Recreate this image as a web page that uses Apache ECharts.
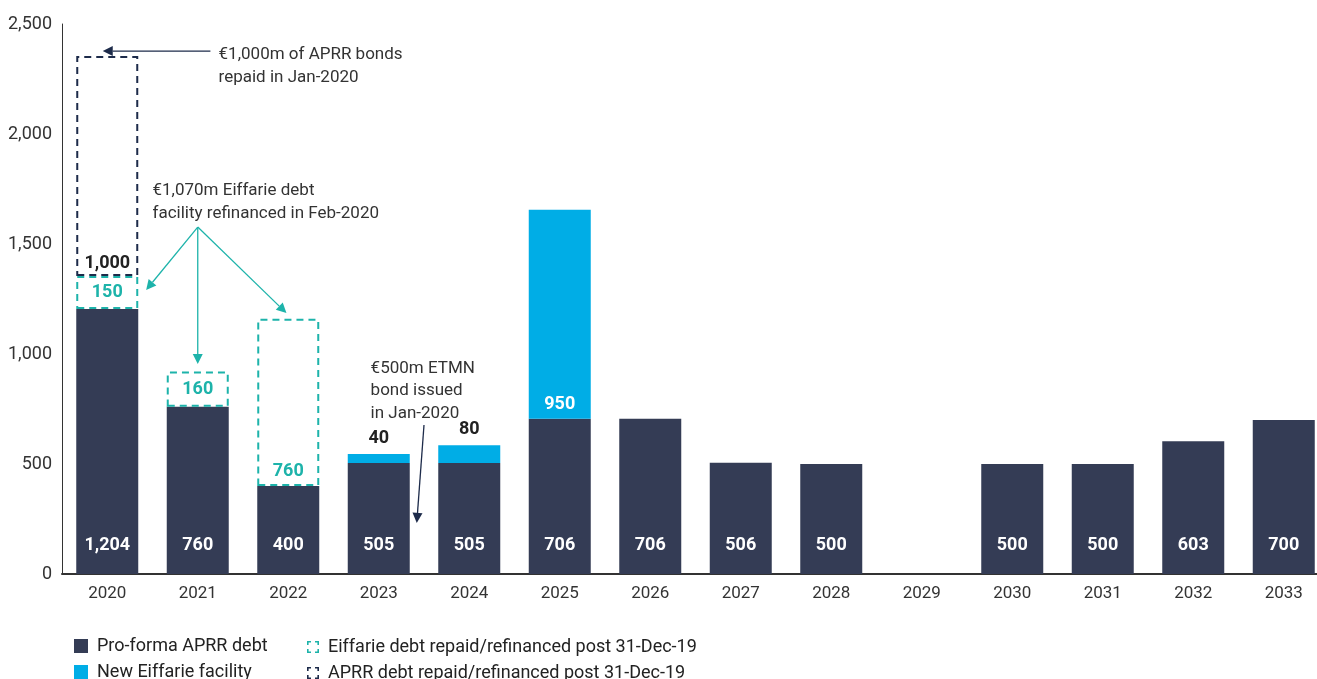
<!DOCTYPE html>
<html><head><meta charset="utf-8">
<script src="https://cdn.jsdelivr.net/npm/echarts@6/dist/echarts.min.js"></script>
<style>html,body{margin:0;padding:0;background:#fff}#c{width:1317px;height:679px}</style>
</head><body><div id="c"></div>
<script>
const years = ['2020','2021','2022','2023','2024','2025','2026','2027','2028','2029','2030','2031','2032','2033'];
const proForma = [1204, 760, 400, 505, 505, 706, 706, 506, 500, null, 500, 500, 603, 700];
const newEiffarie = [null, null, null, 40, 80, 950, null, null, null, null, null, null, null, null];
const eiffarieRepaid = [150, 160, 760, null, null, null, null, null, null, null, null, null, null, null];
const aprrRepaid = [1000, null, null, null, null, null, null, null, null, null, null, null, null, null];
const yTicks = [0, 500, 1000, 1500, 2000, 2500];
const seriesNames = ['Pro-forma APRR debt', 'New Eiffarie facility',
  'Eiffarie debt repaid/refinanced post 31-Dec-19', 'APRR debt repaid/refinanced post 31-Dec-19'];

const DARK = '#343c55', CYAN = '#00ade6', TEAL = '#1db3aa', NAVY = '#1d2b4a', TXT = '#333333';
const FONT = 'Roboto';
const fmt = v => (v == null ? '' : Number(v).toLocaleString('en-US'));

const chart = echarts.init(document.getElementById('c'));
const bold = { fontFamily: FONT, fontWeight: 'bold', fontSize: 18 };

const cyanData = newEiffarie.map(v => v == null ? null : {
  value: v,
  label: v > 500 ? { position: 'insideBottom', distance: 5, color: '#fff' } : { position: 'top', distance: 7, color: '#222' }
});
const tealData = eiffarieRepaid.map(v => v == null ? null : {
  value: v,
  label: v > 300 ? { position: 'insideBottom', distance: 6 } : { position: 'inside' }
});

// corner-bracket icon for the dashed legend entries
const bracketIcon = 'path://M0,0H4V1.6H1.6V4H0Z M8,0H12V4H10.4V1.6H8Z M0,8H1.6V10.4H4V12H0Z M10.4,8H12V12H8V10.4H10.4Z';
const legendPos = [[74, 637, 14, 'rect'], [74, 663, 14, 'rect'], [307, 638, 12, bracketIcon], [307, 664, 12, bracketIcon]];
const legends = seriesNames.map((n, i) => ({
  left: legendPos[i][0], top: legendPos[i][1], itemWidth: legendPos[i][2], itemHeight: legendPos[i][2],
  padding: 0,
  data: [i < 2 ? { name: n, icon: 'rect' } :
    { name: n, icon: legendPos[i][3], itemStyle: { color: i === 2 ? '#1db3aa' : '#1d2b4a', borderWidth: 0 } }],
  textStyle: { fontFamily: FONT, fontSize: 18, color: '#222', padding: [0, 0, 0, 4] }
}));

chart.setOption({
  animation: false,
  textStyle: { fontFamily: FONT },
  grid: { left: 62, top: 24, bottom: 105, width: 1267, outerBoundsMode: 'none', containLabel: false },
  legend: legends,
  xAxis: {
    type: 'category', data: years,
    axisLine: { lineStyle: { color: '#333', width: 2 } },
    axisTick: { show: false },
    axisLabel: { color: TXT, fontSize: 17, fontFamily: FONT, margin: 11 }
  },
  yAxis: {
    type: 'value', min: 0, max: 2500, interval: 500,
    axisLine: { show: true, lineStyle: { color: '#333', width: 1 } },
    axisTick: { show: false },
    splitLine: { show: false },
    axisLabel: { color: TXT, fontSize: 18, fontFamily: FONT, margin: 10, formatter: v => yTicks.includes(v) ? fmt(v) : '' }
  },
  series: [
    { name: seriesNames[0], type: 'bar', stack: 's', barWidth: 62, data: proForma,
      itemStyle: { color: DARK },
      label: { show: true, position: 'insideBottom', distance: 20, color: '#fff', ...bold, formatter: p => fmt(p.value) } },
    { name: seriesNames[1], type: 'bar', stack: 's', data: cyanData,
      itemStyle: { color: CYAN },
      label: { show: true, ...bold, formatter: p => fmt(p.value) } },
    { name: seriesNames[2], type: 'bar', stack: 's', data: tealData,
      itemStyle: { color: 'rgba(0,0,0,0)', borderColor: TEAL, borderWidth: 2, borderType: [7, 5] },
      label: { show: true, color: TEAL, ...bold, formatter: p => fmt(p.value) } },
    { name: seriesNames[3], type: 'bar', stack: 's', data: aprrRepaid,
      itemStyle: { color: 'rgba(0,0,0,0)', borderColor: NAVY, borderWidth: 2, borderType: [7, 5] },
      label: { show: true, position: 'insideBottom', distance: 4, color: '#222', ...bold, formatter: p => fmt(p.value) } }
  ]
});

// Annotations positioned in data space: [category index + band offset, value]
const annTexts = [
  { at: [1.23, 2414], text: '€1,000m of APRR bonds\nrepaid in Jan-2020', lh: 23 },
  { at: [0.5, 1795], text: '€1,070m Eiffarie debt\nfacility refinanced in Feb-2020', lh: 23 },
  { at: [2.91, 986], text: '€500m ETMN\nbond issued\nin Jan-2020', lh: 22.5 }
];
const annArrows = [
  { from: [1.14, 2377], to: [-0.05, 2377], color: NAVY },
  { from: [1.0, 1577], to: [0.43, 1291], color: TEAL },
  { from: [1.0, 1577], to: [1.0, 955], color: TEAL },
  { from: [1.0, 1577], to: [1.98, 1186], color: TEAL },
  { from: [3.5, 677], to: [3.42, 232], color: NAVY }
];

function px(pt) {
  const g = chart.getModel().getComponent('grid').coordinateSystem.getRect();
  const band = g.width / years.length;
  const y = chart.convertToPixel({ yAxisIndex: 0 }, pt[1]);
  return [g.x + (pt[0] + 0.5) * band, y];
}
function arrow(a, b, color) {
  const [x1, y1] = px(a), [x2, y2] = px(b);
  const ang = Math.atan2(y2 - y1, x2 - x1);
  const L = 10, W = 5;
  const bx = x2 - L * Math.cos(ang), by = y2 - L * Math.sin(ang);
  const nx = -Math.sin(ang), ny = Math.cos(ang);
  return [
    { type: 'line', silent: true, shape: { x1, y1, x2: bx, y2: by }, style: { stroke: color, lineWidth: 1.3 } },
    { type: 'polygon', silent: true, shape: { points: [[x2, y2], [bx + nx * W, by + ny * W], [bx - nx * W, by - ny * W]] }, style: { fill: color } }
  ];
}
const graphics = [];
annTexts.forEach(t => {
  const [x, y] = px(t.at);
  graphics.push({ type: 'text', silent: true, x, y,
    style: { text: t.text, fill: TXT, font: '17px ' + FONT, lineHeight: t.lh, textVerticalAlign: 'top' } });
});
annArrows.forEach(a => graphics.push(...arrow(a.from, a.to, a.color)));
chart.setOption({ graphic: graphics });
</script></body></html>
